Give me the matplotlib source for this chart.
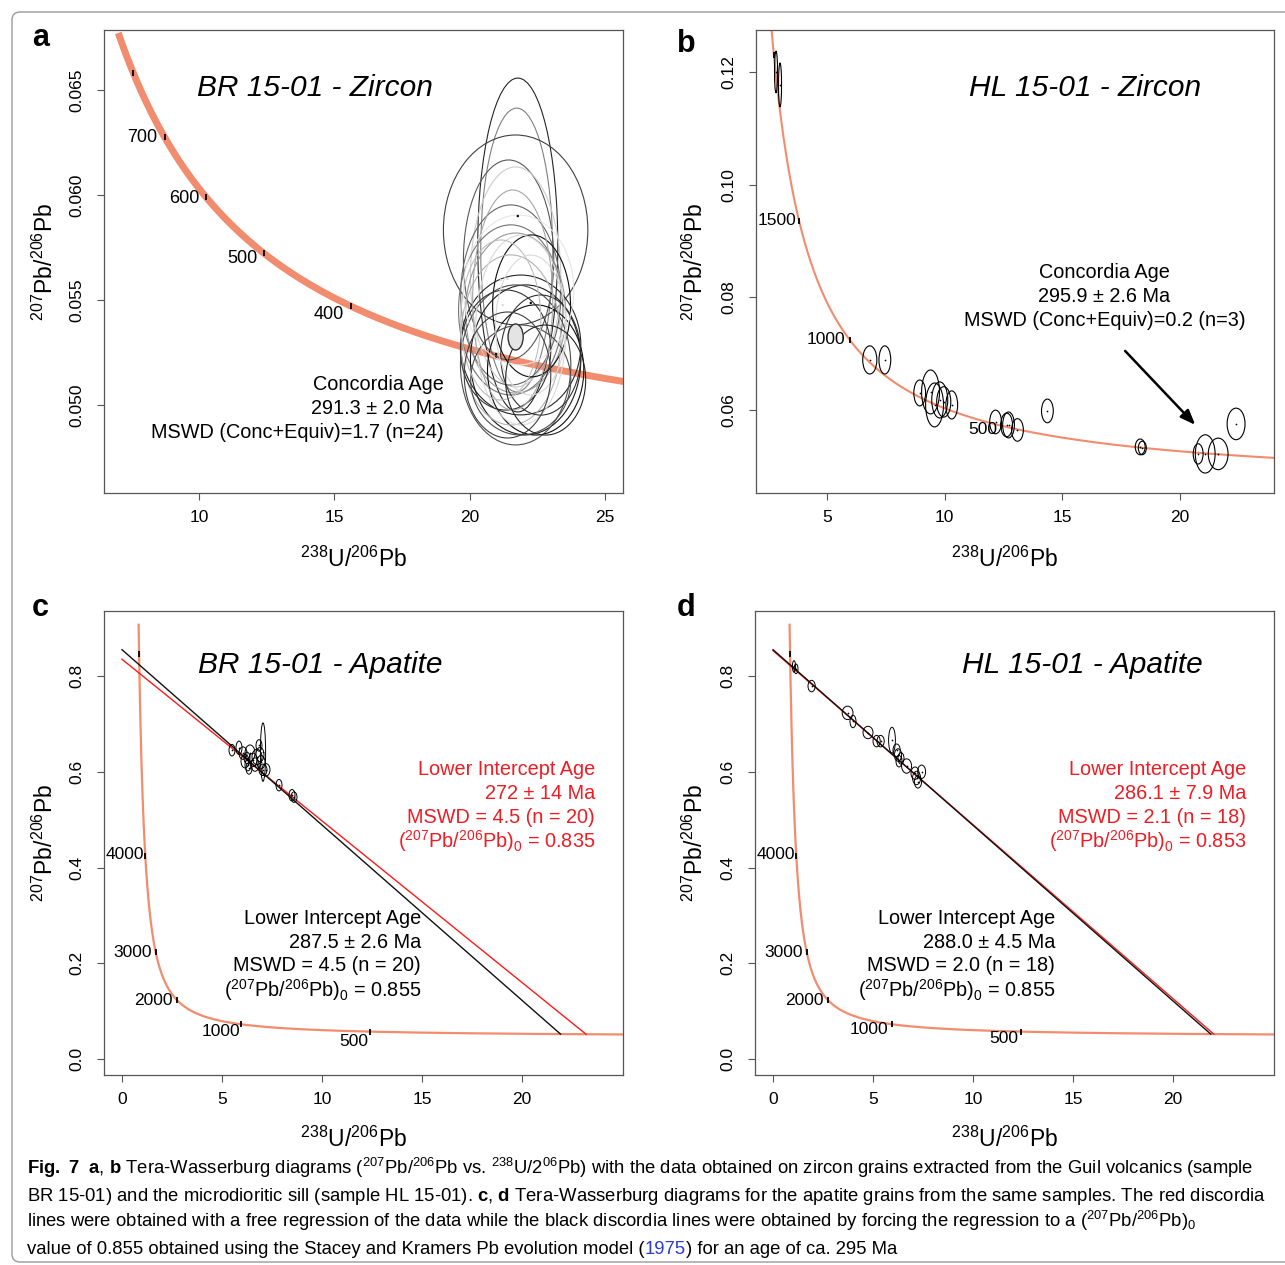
import numpy as np
import matplotlib.pyplot as plt
from matplotlib.patches import Ellipse, FancyBboxPatch

plt.rcParams['font.family'] = ['Liberation Sans', 'DejaVu Sans']
plt.rcParams['mathtext.fontset'] = 'custom'
plt.rcParams['mathtext.rm'] = 'Liberation Sans'
plt.rcParams['mathtext.it'] = 'Liberation Sans:italic'
plt.rcParams['mathtext.bf'] = 'Liberation Sans:bold'

# decay constants for the Tera-Wasserburg concordia
L238 = 1.55125e-10
L235 = 9.8485e-10
U_RATIO = 137.88

# --- a: BR 15-01 zircon (ellipse centre, half axes, grey level) ---
zr_br_x = [21.78, 21.74, 21.70, 21.44, 21.70, 21.52, 21.52, 21.70, 22.29, 21.89, 22.07, 21.70,
           22.44, 21.52, 21.89, 21.33, 22.63, 21.59, 21.89, 21.15, 22.26, 21.81, 22.81, 21.40]
zr_br_y = [0.05762, 0.05738, 0.05834, 0.05691, 0.05610, 0.05524, 0.05453, 0.05438, 0.05472, 0.05286,
           0.05215, 0.05191, 0.05167, 0.05310, 0.05357, 0.05262, 0.05238, 0.05500, 0.05119, 0.05405,
           0.05381, 0.05548, 0.05119, 0.05143]
zr_br_sx = [1.48, 1.33, 2.67, 1.67, 1.67, 1.85, 1.93, 1.85, 1.44, 2.22, 2.04, 2.04,
            1.78, 1.85, 1.67, 1.67, 1.48, 1.48, 1.85, 1.48, 1.30, 2.04, 1.48, 1.60]
zr_br_sy = [0.00795, 0.00676, 0.00452, 0.00476, 0.00524, 0.00429, 0.00405, 0.00381, 0.00338, 0.00333,
            0.00357, 0.00381, 0.00310, 0.00405, 0.00452, 0.00286, 0.00286, 0.00524, 0.00262, 0.00381,
            0.00333, 0.00357, 0.00262, 0.00300]
zr_br_grey = [0.15, 0.5, 0.25, 0.35, 0.8, 0.4, 0.45, 0.6, 0.05, 0.15, 0.1, 0.3,
              0.05, 0.7, 0.85, 0.2, 0.2, 0.65, 0.3, 0.75, 0.85, 0.9, 0.15, 0.25]
zr_br_dot_x = [21.78, 22.26, 21.15, 21.40, 21.15, 21.22]
zr_br_dot_y = [0.05900, 0.05486, 0.05595, 0.05600, 0.05381, 0.05476]
zr_br_dot_grey = [0.0, 0.0, 0.85, 0.85, 0.8, 0.85]
zr_br_conc = (21.70, 0.05324, 0.28, 0.00062)
zr_br_ages = [300, 400, 500, 600, 700, 800]
zr_br_labels = [400, 500, 600, 700]

# --- b: HL 15-01 zircon ---
zr_hl_x = [2.84, 3.01, 6.82, 7.46, 8.94, 9.40, 9.57, 9.79, 9.96, 10.30, 12.16, 12.63, 12.71,
           13.09, 14.36, 18.30, 18.39, 20.76, 21.06, 21.61, 22.37]
zr_hl_y = [0.1200, 0.1177, 0.06889, 0.06889, 0.06303, 0.06321, 0.06090, 0.06179, 0.06144, 0.06090,
           0.05788, 0.05735, 0.05735, 0.05646, 0.05984, 0.05345, 0.05327, 0.05221, 0.05221, 0.05221,
           0.05753]
zr_hl_sx = [0.064, 0.064, 0.30, 0.25, 0.25, 0.38, 0.38, 0.34, 0.30, 0.25, 0.25, 0.25, 0.25,
            0.25, 0.25, 0.21, 0.17, 0.21, 0.42, 0.42, 0.38]
zr_hl_sy = [0.0037, 0.0039, 0.0025, 0.0025, 0.0023, 0.0039, 0.0039, 0.0032, 0.0027, 0.0025,
            0.0021, 0.0021, 0.0023, 0.0020, 0.0021, 0.0014, 0.0012, 0.0018, 0.0034, 0.0028, 0.0028]
zr_hl_ages = [500, 1000, 1500, 2000]
zr_hl_labels = [500, 1000, 1500]

# --- c: BR 15-01 apatite ---
ap_br_x = [5.50, 5.85, 6.05, 6.25, 6.30, 6.40, 6.55, 6.75, 6.90, 7.05, 7.05, 7.20, 7.85, 8.50, 8.60,
           6.15, 6.65, 6.95, 6.35, 6.85]
ap_br_y = [0.645, 0.650, 0.639, 0.629, 0.614, 0.639, 0.625, 0.631, 0.636, 0.641, 0.604, 0.604, 0.572,
           0.551, 0.547, 0.622, 0.615, 0.620, 0.607, 0.655]
ap_br_sx = [0.15, 0.15, 0.20, 0.15, 0.15, 0.25, 0.20, 0.25, 0.20, 0.13, 0.20, 0.20, 0.15, 0.15, 0.15,
            0.20, 0.20, 0.20, 0.15, 0.15]
ap_br_sy = [0.012, 0.014, 0.013, 0.012, 0.012, 0.017, 0.014, 0.016, 0.015, 0.061, 0.012, 0.013, 0.012,
            0.012, 0.011, 0.014, 0.014, 0.014, 0.012, 0.012]
ap_br_free = (272.0, 0.835)     # lower intercept age (Ma), 207Pb/206Pb initial
ap_br_fixed = (287.5, 0.855)

# --- d: HL 15-01 apatite ---
ap_hl_x = [1.15, 1.93, 3.73, 4.00, 4.75, 5.18, 5.38, 5.95, 6.18, 6.25, 6.30, 6.68, 7.10, 7.18, 7.43,
           7.25, 1.05, 6.40]
ap_hl_y = [0.815, 0.779, 0.723, 0.705, 0.682, 0.664, 0.664, 0.666, 0.645, 0.635, 0.622, 0.612, 0.597,
           0.587, 0.600, 0.579, 0.820, 0.628]
ap_hl_sx = [0.10, 0.18, 0.27, 0.15, 0.25, 0.18, 0.18, 0.17, 0.18, 0.18, 0.15, 0.25, 0.20, 0.20, 0.20,
            0.18, 0.08, 0.15]
ap_hl_sy = [0.010, 0.012, 0.014, 0.013, 0.013, 0.012, 0.012, 0.027, 0.013, 0.013, 0.012, 0.015, 0.013,
            0.014, 0.014, 0.013, 0.012, 0.012]
ap_hl_free = (286.1, 0.853)
ap_hl_fixed = (288.0, 0.855)
ap_ages = [500, 1000, 2000, 3000, 4000, 5000]
ap_labels = [500, 1000, 2000, 3000, 4000]

SALMON = '#f28c6e'
W, H = 1285, 1265


def concordia(t_ma):
    t = np.asarray(t_ma, dtype=float) * 1e6
    x = 1.0 / np.expm1(L238 * t)
    y = np.expm1(L235 * t) / np.expm1(L238 * t) / U_RATIO
    return x, y


def style_axes(ax, xt, yt, ylab):
    ax.set_xticks(xt)
    ax.set_yticks(yt, ylab, rotation=90, va='center')
    for s in ax.spines.values():
        s.set_color('#555555')
        s.set_linewidth(0.9)
    ax.tick_params(direction='out', length=5, width=0.8, color='#555555', labelsize=12.5)
    ax.tick_params(axis='x', pad=7)
    ax.tick_params(axis='y', pad=9)
    ax.set_xlabel('$^{238}$U/$^{206}$Pb', fontsize=16.5)
    ax.set_ylabel('$^{207}$Pb/$^{206}$Pb', fontsize=16.5)


def draw_ellipses(ax, xs, ys, sx, sy, colors, dots=True, lw=0.8):
    for x, y, a, b, c in zip(xs, ys, sx, sy, colors):
        ax.add_patch(Ellipse((x, y), 2 * a, 2 * b, fill=False, ec=c, lw=lw, zorder=4))
    if dots:
        ax.scatter(xs, ys, s=1.5, c='k', zorder=5, linewidths=0)


def conc_ticks(ax, ages, labels, offsets, size=12.5):
    cx, cy = concordia(ages)
    ax.plot(cx, cy, ls='none', marker='|', ms=5, mew=1.3, color='k', zorder=3)
    for age, off in zip(labels, offsets):
        lx, ly = concordia(age)
        ax.annotate(str(age), (lx, ly), xytext=off, textcoords='offset points',
                    ha='right', va='center', fontsize=size)


fig = plt.figure(figsize=(W / 100, H / 100), dpi=100)
axa = fig.add_axes([104 / W, 1 - 493 / H, 519 / W, 463 / H])
axb = fig.add_axes([756 / W, 1 - 493 / H, 518 / W, 463 / H])
axc = fig.add_axes([104 / W, 1 - 1075 / H, 519 / W, 464 / H])
axd = fig.add_axes([755 / W, 1 - 1075 / H, 519 / W, 464 / H])

# ---------------- a ----------------
ax = axa
t = np.linspace(245, 860, 800)
ax.plot(*concordia(t), color=SALMON, lw=5, solid_capstyle='butt', zorder=2)
conc_ticks(ax, zr_br_ages, zr_br_labels, [(-5, -6), (-5, -4), (-5, -1), (-5, 0)], size=13)
draw_ellipses(ax, zr_br_x, zr_br_y, zr_br_sx, zr_br_sy, [str(g) for g in zr_br_grey], dots=False)
ax.scatter(zr_br_dot_x, zr_br_dot_y, s=3, c=[str(g) for g in zr_br_dot_grey], linewidths=0, zorder=5)
cx, cy, csx, csy = zr_br_conc
ax.add_patch(Ellipse((cx, cy), 2 * csx, 2 * csy, fc='#e4e4e4', ec='#333333', lw=1, zorder=6))
ax.set_xlim(6.48, 25.67)
ax.set_ylim(0.04581, 0.06786)
style_axes(ax, [10, 15, 20, 25], [0.050, 0.055, 0.060, 0.065], ['0.050', '0.055', '0.060', '0.065'])
ax.text(14.29, 0.0651, 'BR 15-01 - Zircon', fontsize=21.5, style='italic', ha='center', va='center')
for i, line in enumerate(['Concordia Age', '291.3 \u00b1 2.0 Ma', 'MSWD (Conc+Equiv)=1.7 (n=24)']):
    ax.text(19.04, 0.05100 - i * 0.001143, line, fontsize=14.3, ha='right', va='center', zorder=7)

# ---------------- b ----------------
ax = axb
t = np.linspace(235, 2060, 1500)
ax.plot(*concordia(t), color=SALMON, lw=1.5, zorder=2)
conc_ticks(ax, zr_hl_ages, zr_hl_labels, [(-3, -3), (-3, 0), (-2, 0)])
draw_ellipses(ax, zr_hl_x, zr_hl_y, zr_hl_sx, zr_hl_sy, ['k'] * len(zr_hl_x))
ax.set_xlim(1.99, 23.98)
ax.set_ylim(0.04527, 0.12745)
style_axes(ax, [5, 10, 15, 20], [0.06, 0.08, 0.10, 0.12], ['0.06', '0.08', '0.10', '0.12'])
ax.text(15.97, 0.11716, 'HL 15-01 - Zircon', fontsize=21.5, style='italic', ha='center', va='center')
for i, line in enumerate(['Concordia Age', '295.9 \u00b1 2.6 Ma', 'MSWD (Conc+Equiv)=0.2 (n=3)']):
    ax.text(16.78, 0.08433 - i * 0.00426, line, fontsize=14.3, ha='center', va='center')
ax.annotate('', xy=(20.72, 0.0570), xytext=(17.58, 0.07084),
            arrowprops=dict(arrowstyle='-|>,head_length=0.9,head_width=0.35', color='k', lw=1.8))


# ---------------- c, d ----------------
def apatite(ax, xs, ys, sx, sy, free, fixed, title, tx, red_x, blk_x, free_txt, fixed_txt):
    t = np.linspace(250, 5100, 3000)
    ax.plot(*concordia(t), color=SALMON, lw=1.6, zorder=2)
    for (age, y0), col in [(free, '#ff1a1a'), (fixed, '#111111')]:
        xi, yi = concordia(age)
        ax.plot([0, xi], [y0, yi], color=col, lw=1.0, zorder=3)
    draw_ellipses(ax, xs, ys, sx, sy, ['k'] * len(xs), lw=0.7)
    ax.set_xlim(-0.9, 25.05)
    ax.set_ylim(-0.0334, 0.9358)
    style_axes(ax, [0, 5, 10, 15, 20], [0.0, 0.2, 0.4, 0.6, 0.8], ['0.0', '0.2', '0.4', '0.6', '0.8'])
    ax.text(tx, 0.823, title, fontsize=21.5, style='italic', ha='center', va='center')
    for i, line in enumerate(free_txt):
        ax.text(red_x, 0.6057 - i * 0.0501, line, fontsize=14.3, color='#ee1c24', ha='right', va='center')
    for i, line in enumerate(fixed_txt):
        ax.text(blk_x, 0.2945 - i * 0.0501, line, fontsize=14.3, color='k', ha='right', va='center')


apatite(axc, ap_br_x, ap_br_y, ap_br_sx, ap_br_sy, ap_br_free, ap_br_fixed, 'BR 15-01 - Apatite', 9.9,
        23.65, 14.95,
        ['Lower Intercept Age', '272 \u00b1 14 Ma', 'MSWD = 4.5 (n = 20)',
         '($^{207}$Pb/$^{206}$Pb)$_0$ = 0.835'],
        ['Lower Intercept Age', '287.5 \u00b1 2.6 Ma', 'MSWD = 4.5 (n = 20)',
         '($^{207}$Pb/$^{206}$Pb)$_0$ = 0.855'])
conc_ticks(axc, ap_ages, ap_labels, [(-1, -7), (-1, -5), (-3, 0), (-3, 0), (-1, 1)])

apatite(axd, ap_hl_x, ap_hl_y, ap_hl_sx, ap_hl_sy, ap_hl_free, ap_hl_fixed, 'HL 15-01 - Apatite', 15.45,
        23.65, 14.1,
        ['Lower Intercept Age', '286.1 \u00b1 7.9 Ma', 'MSWD = 2.1 (n = 18)',
         '($^{207}$Pb/$^{206}$Pb)$_0$ = 0.853'],
        ['Lower Intercept Age', '288.0 \u00b1 4.5 Ma', 'MSWD = 2.0 (n = 18)',
         '($^{207}$Pb/$^{206}$Pb)$_0$ = 0.855'])
conc_ticks(axd, ap_ages, ap_labels, [(-2, -5), (-3, -4), (-3, 0), (-3, 0), (-1, 1)])

for ax, lx in [(axa, -0.088), (axb, -0.092), (axc, -0.088), (axd, -0.090)]:
    ax.yaxis.set_label_coords(lx, 0.5)
    ax.xaxis.set_label_coords(0.48, -0.116 if ax in (axa, axb) else -0.112)

# panel letters
for letter, px, py in [('a', 41, 38), ('b', 686, 44), ('c', 40, 608), ('d', 686, 608)]:
    fig.text(px / W, 1 - py / H, letter, fontsize=22, fontweight='bold', ha='center', va='center')

# caption
cap_font = ['Liberation Sans Narrow', 'Liberation Sans']
cap_size = 13.3
lines = [
    r'$\mathbf{Fig.\ 7}$  $\mathbf{a}$, $\mathbf{b}$ Tera-Wasserburg diagrams ($^{207}$Pb/$^{206}$Pb vs. '
    r'$^{238}$U/2$^{06}$Pb) with the data obtained on zircon grains extracted from the Guil volcanics (sample',
    r'BR 15-01) and the microdioritic sill (sample HL 15-01). $\mathbf{c}$, $\mathbf{d}$ Tera-Wasserburg '
    r'diagrams for the apatite grains from the same samples. The red discordia',
    r'lines were obtained with a free regression of the data while the black discordia lines were obtained '
    r'by forcing the regression to a ($^{207}$Pb/$^{206}$Pb)$_0$',
]
for i, line in enumerate(lines):
    fig.text(27 / W, 1 - (1174 + i * 26.7) / H, line, fontsize=cap_size, family=cap_font)
prev = fig.text(27 / W, 1 - (1174 + 3 * 26.7) / H,
                'value of 0.855 obtained using the Stacey and Kramers Pb evolution model (',
                fontsize=cap_size, family=cap_font)
for piece, col in [('1975', '#2b3bd6'), (') for an age of ca. 295 Ma', 'k')]:
    prev = axd.annotate(piece, xy=(1, 0), xycoords=prev, va='bottom', ha='left',
                        fontsize=cap_size, family=cap_font, color=col, annotation_clip=False)

frame = FancyBboxPatch((0.12, 0.03), 13.5, 12.50, boxstyle='round,pad=0,rounding_size=0.08',
                       transform=fig.dpi_scale_trans, fc='none', ec='#9a9a9a', lw=1.0)
fig.add_artist(frame)

fig.savefig('out.png', dpi=100)
